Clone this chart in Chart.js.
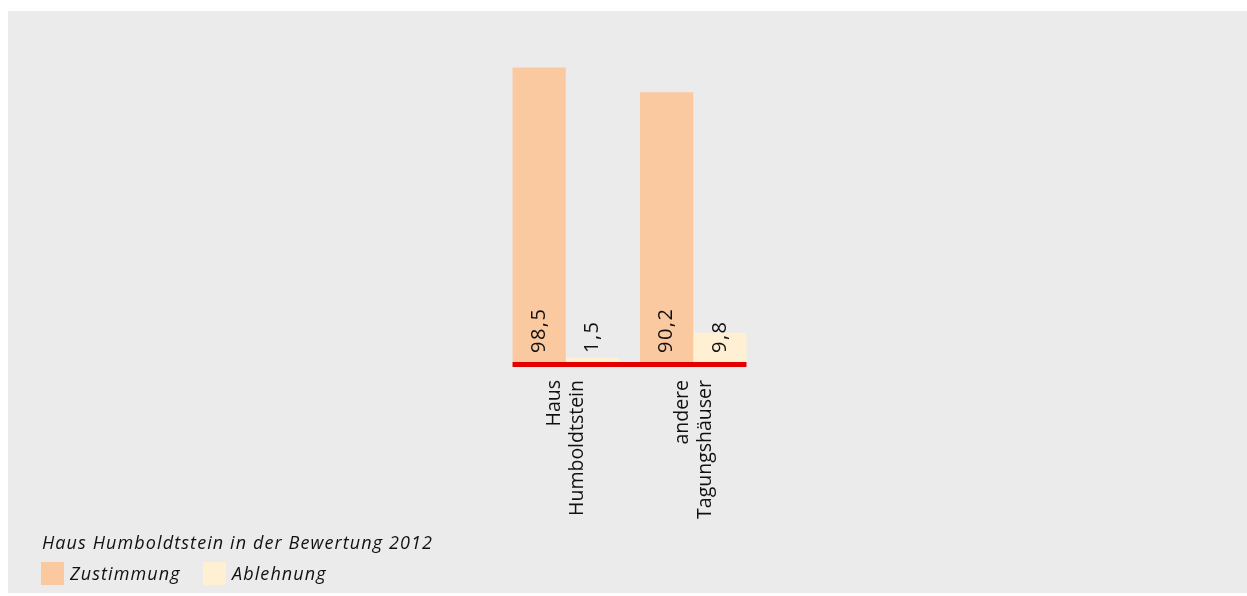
<!DOCTYPE html>
<html>
<head>
<meta charset="utf-8">
<script src="https://cdn.jsdelivr.net/npm/chart.js@4/dist/chart.umd.min.js"></script>
<style>
  html, body { margin: 0; padding: 0; background: #ffffff; }
  #wrap { position: absolute; left: 8px; top: 11px; width: 1239px; height: 582px; background: #ebebeb; }
  canvas { display: block; }
</style>
</head>
<body>
<div id="wrap"><canvas id="c" width="1239" height="582"></canvas></div>
<script>
const categories = [["Haus", "Humboldtstein"], ["andere", "Tagungshäuser"]];
const seriesNames = ["Zustimmung", "Ablehnung"];
const zustimmung = [98.5, 90.2];
const ablehnung = [1.5, 9.8];
const chartTitle = "Haus Humboldtstein in der Bewertung 2012";

const colors = ["#fbc9a0", "#fff0d4"];
const FONT = "'Open Sans', 'Noto Sans', sans-serif";

const valueLabels = {
  id: 'valueLabels',
  afterDatasetsDraw(chart) {
    const ctx = chart.ctx;
    const area = chart.chartArea;
    let minX = Infinity, maxX = -Infinity;
    chart.data.datasets.forEach((ds, i) => {
      chart.getDatasetMeta(i).data.forEach(bar => {
        minX = Math.min(minX, bar.x - bar.width / 2);
        maxX = Math.max(maxX, bar.x + bar.width / 2);
      });
    });
    ctx.save();
    ctx.fillStyle = '#e30000';
    ctx.fillRect(minX, area.bottom, maxX - minX, 5);
    ctx.restore();

    chart.data.datasets.forEach((ds, i) => {
      chart.getDatasetMeta(i).data.forEach((bar, j) => {
        const txt = String(ds.data[j]).replace('.', ',');
        ctx.save();
        ctx.translate(bar.x, area.bottom - 9);
        ctx.rotate(-Math.PI / 2);
        ctx.font = "20px " + FONT;
        ctx.letterSpacing = '1.5px';
        ctx.fillStyle = '#111111';
        ctx.textAlign = 'left';
        ctx.textBaseline = 'middle';
        ctx.fillText(txt, 0, 0);
        ctx.restore();
      });
    });
  }
};

const customLegend = {
  id: 'customLegend',
  afterDraw(chart) {
    const ctx = chart.ctx;
    ctx.save();
    ctx.fillStyle = '#111111';
    ctx.font = "italic 18px " + FONT;
    ctx.letterSpacing = '1.1px';
    ctx.textBaseline = 'alphabetic';
    ctx.textAlign = 'left';
    ctx.fillText(chartTitle, 34, 538);
    let x = 33;
    const y = 551;
    chart.data.datasets.forEach(ds => {
      ctx.fillStyle = ds.backgroundColor;
      ctx.fillRect(x, y, 23, 23);
      ctx.fillStyle = '#111111';
      ctx.textBaseline = 'middle';
      ctx.fillText(ds.label, x + 29, y + 13);
      x += 162;
    });
    ctx.restore();
  }
};

new Chart(document.getElementById('c'), {
  type: 'bar',
  data: {
    labels: categories,
    datasets: [
      { label: seriesNames[0], data: zustimmung, backgroundColor: colors[0] },
      { label: seriesNames[1], data: ablehnung, backgroundColor: colors[1] }
    ]
  },
  options: {
    responsive: false,
    animation: false,
    devicePixelRatio: 1,
    layout: { padding: { left: 494, right: 490, top: 52, bottom: 0 } },
    datasets: { bar: { barPercentage: 1, categoryPercentage: 0.835 } },
    scales: {
      y: { display: false, min: 0, max: 100 },
      x: {
        grid: { display: false, drawTicks: false },
        border: { display: false },
        afterFit(scale) { scale.height = 231; },
        ticks: {
          maxRotation: 90, minRotation: 90,
          padding: 18,
          labelOffset: -11,
          color: '#111111',
          font: { family: FONT, size: 19.5, lineHeight: 1.18 }
        }
      }
    },
    plugins: {
      legend: { display: false },
      tooltip: { enabled: false }
    }
  },
  plugins: [valueLabels, customLegend]
});
</script>
</body>
</html>
